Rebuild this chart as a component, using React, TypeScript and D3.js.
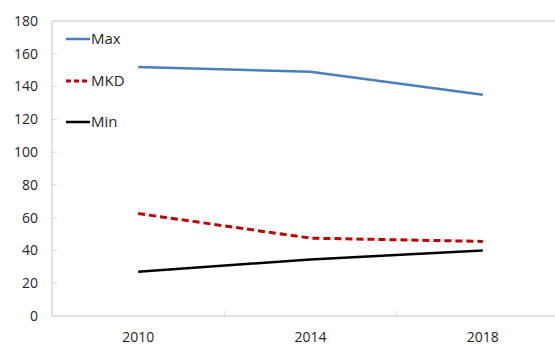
import React from "react";
import * as d3 from "d3";

const categories = ["2010", "2014", "2018"];
const maxValues = [152, 149, 135];
const mkdValues = [62.5, 47.5, 45.5];
const minValues = [27, 34.5, 40];
const yTicks = [0, 20, 40, 60, 80, 100, 120, 140, 160, 180];

const series = [
  { name: "Max", values: maxValues, color: "#4a7fb8", dash: "", width: 2.5 },
  { name: "MKD", values: mkdValues, color: "#c00000", dash: "7,4", width: 3 },
  { name: "Min", values: minValues, color: "#000000", dash: "", width: 2.5 },
];

export default function App() {
  const W = 555, H = 345;
  const left = 52, right = 569, top = 21, bottom = 316;
  const x = d3.scaleBand<string>().domain(categories).range([left, right]);
  const y = d3.scaleLinear().domain([0, 180]).range([bottom, top]);
  const line = d3
    .line<number>()
    .x((_, i) => (x(categories[i]) as number) + x.bandwidth() / 2)
    .y((d) => y(d));
  const axisColor = "#d9d9d9";
  const font = "'Open Sans', sans-serif";
  const legendY = [39, 81, 122];

  return (
    <svg
      width={W}
      height={H}
      style={{ position: "fixed", left: 0, top: 0, background: "#fff" }}
      fontFamily={font}
    >
      {/* frame */}
      <line x1={left} x2={W} y1={top} y2={top} stroke={axisColor} strokeWidth={1.5} />
      <line x1={left} x2={left} y1={top} y2={bottom} stroke={axisColor} strokeWidth={1.5} />
      <line x1={left} x2={W} y1={bottom} y2={bottom} stroke={axisColor} strokeWidth={1.5} />
      {yTicks.map((t) => (
        <g key={t}>
          <line x1={left} x2={left + 5} y1={y(t)} y2={y(t)} stroke={axisColor} strokeWidth={1} />
          <text x={38} y={y(t)} dy="0.35em" textAnchor="end" fontSize={14} fill="#262626">
            {t}
          </text>
        </g>
      ))}
      {categories.map((c, i) => (
        <g key={c}>
          {i > 0 && (
            <line
              x1={x(c) as number}
              x2={x(c) as number}
              y1={bottom}
              y2={bottom - 5}
              stroke={axisColor}
              strokeWidth={1}
            />
          )}
          <text
            x={(x(c) as number) + x.bandwidth() / 2}
            y={342}
            textAnchor="middle"
            fontSize={14}
            fill="#262626"
          >
            {c}
          </text>
        </g>
      ))}
      {series.map((s) => (
        <path
          key={s.name}
          d={line(s.values) || ""}
          fill="none"
          stroke={s.color}
          strokeWidth={s.width}
          strokeDasharray={s.dash || undefined}
        />
      ))}
      {series.map((s, i) => (
        <g key={"lg" + s.name}>
          <line
            x1={66}
            x2={90}
            y1={legendY[i]}
            y2={legendY[i]}
            stroke={s.color}
            strokeWidth={s.width}
            strokeDasharray={s.dash ? "5,3" : undefined}
          />
          <text x={91} y={legendY[i]} dy="0.35em" fontSize={15} fill="#262626">
            {s.name}
          </text>
        </g>
      ))}
    </svg>
  );
}
